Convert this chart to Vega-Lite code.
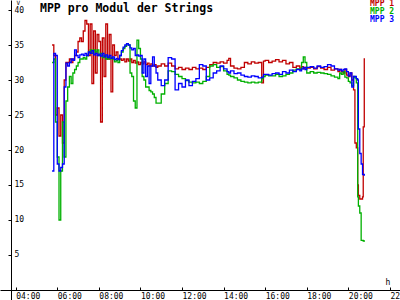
{
  "$schema": "https://vega.github.io/schema/vega-lite/v6.json",
  "width": 400,
  "height": 300,
  "padding": 0,
  "autosize": {"type": "none"},
  "background": "white",
  "config": {"view": {"stroke": null}},
  "title": {
    "text": "MPP pro Modul der Strings",
    "anchor": "start",
    "frame": "group",
    "orient": "top",
    "offset": -11,
    "baseline": "alphabetic",
    "dx": 40,
    "dy": 13,
    "font": "DejaVu Sans Mono",
    "fontSize": 11.5,
    "fontWeight": "bold",
    "color": "black"
  },
  "data": {
    "values": [
      {"m": 345, "MPP 1": 35, "MPP 2": 32.5, "MPP 3": 17},
      {"m": 350, "MPP 1": 33.5, "MPP 2": 33, "MPP 3": 33.8},
      {"m": 355, "MPP 1": 25, "MPP 2": 24, "MPP 3": 33.5},
      {"m": 360, "MPP 1": 26, "MPP 2": 19, "MPP 3": 18},
      {"m": 365, "MPP 1": 22, "MPP 2": 10, "MPP 3": 17},
      {"m": 370, "MPP 1": 25, "MPP 2": 17, "MPP 3": 17.5},
      {"m": 375, "MPP 1": 21, "MPP 2": 24, "MPP 3": 18},
      {"m": 380, "MPP 1": 30, "MPP 2": 19, "MPP 3": 29},
      {"m": 385, "MPP 1": 32.5, "MPP 2": 27, "MPP 3": 32.4},
      {"m": 390, "MPP 1": 32.5, "MPP 2": 29, "MPP 3": 32},
      {"m": 395, "MPP 1": 33, "MPP 2": 30.5, "MPP 3": 32.5},
      {"m": 400, "MPP 1": 32.5, "MPP 2": 29.5, "MPP 3": 33},
      {"m": 405, "MPP 1": 33, "MPP 2": 31, "MPP 3": 32.8},
      {"m": 410, "MPP 1": 33.5, "MPP 2": 31.5, "MPP 3": 34.3},
      {"m": 415, "MPP 1": 34, "MPP 2": 32, "MPP 3": 33.5},
      {"m": 420, "MPP 1": 35.5, "MPP 2": 32.5, "MPP 3": 33.2},
      {"m": 425, "MPP 1": 36, "MPP 2": 33, "MPP 3": 33.6},
      {"m": 430, "MPP 1": 35.5, "MPP 2": 33, "MPP 3": 33.7},
      {"m": 435, "MPP 1": 37, "MPP 2": 33.2, "MPP 3": 33.5},
      {"m": 440, "MPP 1": 38.5, "MPP 2": 33, "MPP 3": 33.8},
      {"m": 445, "MPP 1": 38, "MPP 2": 33.5, "MPP 3": 33.5},
      {"m": 450, "MPP 1": 33.5, "MPP 2": 34, "MPP 3": 34},
      {"m": 455, "MPP 1": 38, "MPP 2": 34.3, "MPP 3": 33.8},
      {"m": 460, "MPP 1": 29.5, "MPP 2": 33.8, "MPP 3": 34.2},
      {"m": 465, "MPP 1": 37, "MPP 2": 34.3, "MPP 3": 33.6},
      {"m": 470, "MPP 1": 31, "MPP 2": 34, "MPP 3": 33.8},
      {"m": 475, "MPP 1": 36.5, "MPP 2": 34.3, "MPP 3": 33.5},
      {"m": 480, "MPP 1": 35.5, "MPP 2": 33.5, "MPP 3": 33.7},
      {"m": 485, "MPP 1": 24, "MPP 2": 33.8, "MPP 3": 33.4},
      {"m": 490, "MPP 1": 36, "MPP 2": 33.2, "MPP 3": 33.8},
      {"m": 495, "MPP 1": 30.5, "MPP 2": 33.5, "MPP 3": 33.3},
      {"m": 500, "MPP 1": 38, "MPP 2": 33, "MPP 3": 33.6},
      {"m": 505, "MPP 1": 33, "MPP 2": 33.3, "MPP 3": 33.2},
      {"m": 510, "MPP 1": 36.5, "MPP 2": 33, "MPP 3": 33.5},
      {"m": 515, "MPP 1": 28.3, "MPP 2": 33.2, "MPP 3": 33.1},
      {"m": 520, "MPP 1": 35, "MPP 2": 33, "MPP 3": 33.3},
      {"m": 525, "MPP 1": 33.5, "MPP 2": 32.6, "MPP 3": 32.9},
      {"m": 530, "MPP 1": 34, "MPP 2": 32.8, "MPP 3": 33.1},
      {"m": 535, "MPP 1": 33, "MPP 2": 32.5, "MPP 3": 32.9},
      {"m": 540, "MPP 1": 33, "MPP 2": 33.5, "MPP 3": 33.5},
      {"m": 545, "MPP 1": 32.8, "MPP 2": 34, "MPP 3": 34.2},
      {"m": 550, "MPP 1": 33, "MPP 2": 34.5, "MPP 3": 34.7},
      {"m": 555, "MPP 1": 32.6, "MPP 2": 34.8, "MPP 3": 35},
      {"m": 560, "MPP 1": 33, "MPP 2": 35.2, "MPP 3": 35.2},
      {"m": 565, "MPP 1": 32.7, "MPP 2": 35, "MPP 3": 35},
      {"m": 570, "MPP 1": 33, "MPP 2": 31, "MPP 3": 34.6},
      {"m": 575, "MPP 1": 32.5, "MPP 2": 30.5, "MPP 3": 34.3},
      {"m": 580, "MPP 1": 32.8, "MPP 2": 27, "MPP 3": 34.5},
      {"m": 585, "MPP 1": 32.4, "MPP 2": 26, "MPP 3": 33.5},
      {"m": 590, "MPP 1": 32.6, "MPP 2": 35.7, "MPP 3": 33.6},
      {"m": 595, "MPP 1": 32.2, "MPP 2": 34.5, "MPP 3": 33.4},
      {"m": 600, "MPP 1": 32.5, "MPP 2": 33, "MPP 3": 33.5},
      {"m": 605, "MPP 1": 32.3, "MPP 2": 30.5, "MPP 3": 31},
      {"m": 610, "MPP 1": 32.6, "MPP 2": 30, "MPP 3": 33},
      {"m": 615, "MPP 1": 32.2, "MPP 2": 29, "MPP 3": 30.5},
      {"m": 620, "MPP 1": 32.4, "MPP 2": 29, "MPP 3": 32},
      {"m": 625, "MPP 1": 32, "MPP 2": 28.5, "MPP 3": 29.5},
      {"m": 630, "MPP 1": 32.3, "MPP 2": 28.3, "MPP 3": 32},
      {"m": 635, "MPP 1": 32, "MPP 2": 28, "MPP 3": 33.3},
      {"m": 640, "MPP 1": 32.2, "MPP 2": 27.5, "MPP 3": 32},
      {"m": 645, "MPP 1": 31.8, "MPP 2": 26.7, "MPP 3": 31},
      {"m": 650, "MPP 1": 32, "MPP 2": 26.7, "MPP 3": 30},
      {"m": 660, "MPP 1": 32.3, "MPP 2": 28, "MPP 3": 29.2},
      {"m": 670, "MPP 1": 32, "MPP 2": 29.5, "MPP 3": 30},
      {"m": 680, "MPP 1": 32.4, "MPP 2": 31.3, "MPP 3": 33.2},
      {"m": 690, "MPP 1": 32, "MPP 2": 31.2, "MPP 3": 33},
      {"m": 700, "MPP 1": 31.6, "MPP 2": 30.8, "MPP 3": 28.6},
      {"m": 710, "MPP 1": 31.8, "MPP 2": 30.5, "MPP 3": 29.5},
      {"m": 720, "MPP 1": 31.5, "MPP 2": 30.2, "MPP 3": 29},
      {"m": 730, "MPP 1": 31.7, "MPP 2": 29.9, "MPP 3": 30},
      {"m": 740, "MPP 1": 31.5, "MPP 2": 29.7, "MPP 3": 29.2},
      {"m": 750, "MPP 1": 31.8, "MPP 2": 29.6, "MPP 3": 29.8},
      {"m": 760, "MPP 1": 31.6, "MPP 2": 29.7, "MPP 3": 30.2},
      {"m": 770, "MPP 1": 31.7, "MPP 2": 29.5, "MPP 3": 32.2},
      {"m": 780, "MPP 1": 31.5, "MPP 2": 29.8, "MPP 3": 32},
      {"m": 790, "MPP 1": 31.8, "MPP 2": 30.5, "MPP 3": 30},
      {"m": 800, "MPP 1": 32.2, "MPP 2": 32, "MPP 3": 30.3},
      {"m": 810, "MPP 1": 32.5, "MPP 2": 32.2, "MPP 3": 31},
      {"m": 820, "MPP 1": 32.4, "MPP 2": 31.8, "MPP 3": 31.3},
      {"m": 830, "MPP 1": 32.6, "MPP 2": 31.9, "MPP 3": 32},
      {"m": 840, "MPP 1": 32.4, "MPP 2": 31.3, "MPP 3": 31.6},
      {"m": 850, "MPP 1": 32.8, "MPP 2": 30.8, "MPP 3": 31.2},
      {"m": 855, "MPP 1": 33.1, "MPP 2": 30.7, "MPP 3": 31},
      {"m": 860, "MPP 1": 32, "MPP 2": 30.5, "MPP 3": 31.3},
      {"m": 870, "MPP 1": 31.7, "MPP 2": 30.3, "MPP 3": 30.9},
      {"m": 880, "MPP 1": 31.6, "MPP 2": 30, "MPP 3": 31},
      {"m": 890, "MPP 1": 31.8, "MPP 2": 29.8, "MPP 3": 30.7},
      {"m": 900, "MPP 1": 32.5, "MPP 2": 29.7, "MPP 3": 30.5},
      {"m": 910, "MPP 1": 32.3, "MPP 2": 29.6, "MPP 3": 30.4},
      {"m": 920, "MPP 1": 32.6, "MPP 2": 29.7, "MPP 3": 30.6},
      {"m": 930, "MPP 1": 32.4, "MPP 2": 29.6, "MPP 3": 30.5},
      {"m": 940, "MPP 1": 32.5, "MPP 2": 29.7, "MPP 3": 30.3},
      {"m": 950, "MPP 1": 29.6, "MPP 2": 30.2, "MPP 3": 30.4},
      {"m": 955, "MPP 1": 32.7, "MPP 2": 30.5, "MPP 3": 30.8},
      {"m": 960, "MPP 1": 32.8, "MPP 2": 30.7, "MPP 3": 30.8},
      {"m": 970, "MPP 1": 32.5, "MPP 2": 30.6, "MPP 3": 30.7},
      {"m": 980, "MPP 1": 32.7, "MPP 2": 30.6, "MPP 3": 30.9},
      {"m": 990, "MPP 1": 32.9, "MPP 2": 30.8, "MPP 3": 31},
      {"m": 1000, "MPP 1": 32.6, "MPP 2": 30.5, "MPP 3": 30.8},
      {"m": 1010, "MPP 1": 32.8, "MPP 2": 30.6, "MPP 3": 31.2},
      {"m": 1020, "MPP 1": 32.3, "MPP 2": 30.8, "MPP 3": 31},
      {"m": 1030, "MPP 1": 32.5, "MPP 2": 31, "MPP 3": 31.4},
      {"m": 1040, "MPP 1": 31.8, "MPP 2": 31.4, "MPP 3": 31.2},
      {"m": 1050, "MPP 1": 32, "MPP 2": 31.6, "MPP 3": 31.5},
      {"m": 1060, "MPP 1": 31.7, "MPP 2": 31.5, "MPP 3": 31.3},
      {"m": 1065, "MPP 1": 31.9, "MPP 2": 32.5, "MPP 3": 31.6},
      {"m": 1070, "MPP 1": 31.6, "MPP 2": 33.3, "MPP 3": 31.8},
      {"m": 1075, "MPP 1": 31.8, "MPP 2": 32.5, "MPP 3": 31.5},
      {"m": 1080, "MPP 1": 31.7, "MPP 2": 31, "MPP 3": 31.8},
      {"m": 1090, "MPP 1": 31.8, "MPP 2": 31.2, "MPP 3": 31.9},
      {"m": 1100, "MPP 1": 31.6, "MPP 2": 31, "MPP 3": 31.7},
      {"m": 1110, "MPP 1": 31.9, "MPP 2": 31.1, "MPP 3": 32},
      {"m": 1120, "MPP 1": 31.7, "MPP 2": 31, "MPP 3": 31.8},
      {"m": 1130, "MPP 1": 31.5, "MPP 2": 30.9, "MPP 3": 31.9},
      {"m": 1140, "MPP 1": 31.8, "MPP 2": 30.8, "MPP 3": 32.2},
      {"m": 1150, "MPP 1": 31.4, "MPP 2": 30.6, "MPP 3": 32},
      {"m": 1160, "MPP 1": 31.6, "MPP 2": 30.4, "MPP 3": 31.6},
      {"m": 1170, "MPP 1": 31.2, "MPP 2": 30.2, "MPP 3": 31.4},
      {"m": 1175, "MPP 1": 31.5, "MPP 2": 31, "MPP 3": 31.5},
      {"m": 1180, "MPP 1": 31.2, "MPP 2": 30.8, "MPP 3": 31.3},
      {"m": 1185, "MPP 1": 31, "MPP 2": 31.2, "MPP 3": 31.5},
      {"m": 1190, "MPP 1": 31.5, "MPP 2": 30.4, "MPP 3": 31.6},
      {"m": 1195, "MPP 1": 30.7, "MPP 2": 30.3, "MPP 3": 31.2},
      {"m": 1200, "MPP 1": 30.5, "MPP 2": 29.8, "MPP 3": 30.6},
      {"m": 1205, "MPP 1": 31, "MPP 2": 29.6, "MPP 3": 31},
      {"m": 1210, "MPP 1": 30, "MPP 2": 29.2, "MPP 3": 29},
      {"m": 1215, "MPP 1": 28.6, "MPP 2": 30.5, "MPP 3": 30.5},
      {"m": 1219, "MPP 1": 21, "MPP 2": 30.3, "MPP 3": 30.5},
      {"m": 1223, "MPP 1": 20.3, "MPP 2": 29.6, "MPP 3": 30.2},
      {"m": 1227, "MPP 1": 15, "MPP 2": 13.3, "MPP 3": 30},
      {"m": 1229, "MPP 1": 13.5, "MPP 2": 12, "MPP 3": 23},
      {"m": 1233, "MPP 1": 13, "MPP 2": 11, "MPP 3": 19.5},
      {"m": 1237, "MPP 1": 13, "MPP 2": 7.1, "MPP 3": 18},
      {"m": 1241, "MPP 1": 13.3, "MPP 2": 7.1, "MPP 3": 16.5},
      {"m": 1243, "MPP 1": 23.3, "MPP 2": 7, "MPP 3": 16.5},
      {"m": 1246, "MPP 1": 33, "MPP 2": 7, "MPP 3": 16.4},
      {"m": 1248, "MPP 1": 33, "MPP 2": 7, "MPP 3": 16.4}
    ]
  },
  "transform": [{"fold": ["MPP 1", "MPP 2", "MPP 3"], "as": ["s", "v"]}],
  "mark": {"type": "line", "interpolate": "step-after", "strokeWidth": 1.3},
  "encoding": {
    "x": {
      "field": "m",
      "type": "quantitative",
      "scale": {"domain": [194.7, 1349.1], "nice": false, "zero": false},
      "axis": {
        "orient": "bottom",
        "offset": -10,
        "values": [240, 360, 480, 600, 720, 840, 960, 1080, 1200, 1320],
        "labelExpr": "(datum.value < 600 ? '0' : '') + floor(datum.value / 60) + ':00'",
        "grid": false,
        "domainColor": "black",
        "domainWidth": 1,
        "tickColor": "black",
        "tickSize": -3,
        "labelFont": "DejaVu Sans Mono",
        "labelFontSize": 8,
        "labelColor": "black",
        "labelAlign": "left",
        "labelBaseline": "top",
        "labelDx": -4,
        "labelPadding": 5,
        "labelFlush": false,
        "labelOverlap": false,
        "title": "h",
        "titleFont": "DejaVu Sans Mono",
        "titleFontSize": 8,
        "titleFontWeight": "normal",
        "titleColor": "black",
        "titleX": 385,
        "titleY": -6,
        "titleAlign": "left",
        "titleBaseline": "alphabetic"
      }
    },
    "y": {
      "field": "v",
      "type": "quantitative",
      "scale": {"domain": [-1.43, 41.43], "nice": false, "zero": false},
      "axis": {
        "orient": "left",
        "offset": -11,
        "values": [5, 10, 15, 20, 25, 30, 35, 40],
        "grid": false,
        "domainColor": "black",
        "domainWidth": 1,
        "tickColor": "black",
        "tickSize": 3,
        "labelFont": "DejaVu Sans Mono",
        "labelFontSize": 8,
        "labelColor": "black",
        "labelAlign": "left",
        "labelBaseline": "middle",
        "labelPadding": -6,
        "labelFlush": false,
        "labelOverlap": false,
        "title": "V",
        "titleFont": "DejaVu Sans Mono",
        "titleFontSize": 6,
        "titleFontWeight": "normal",
        "titleColor": "black",
        "titleAngle": 0,
        "titleX": 5,
        "titleY": -1,
        "titleAlign": "left",
        "titleBaseline": "top"
      }
    },
    "color": {
      "field": "s",
      "type": "nominal",
      "scale": {"domain": ["MPP 1", "MPP 2", "MPP 3"], "range": ["#c00000", "#00b000", "#0000ff"]},
      "legend": {
        "orient": "none",
        "legendX": 362,
        "legendY": 0,
        "title": null,
        "padding": 0,
        "rowPadding": 0,
        "symbolSize": 0,
        "symbolOpacity": 0,
        "symbolStrokeWidth": 0,
        "labelOffset": 0,
        "labelFont": "DejaVu Sans Mono",
        "labelFontSize": 8,
        "labelFontWeight": "bold",
        "labelColor": {"expr": "datum.value == 'MPP 1' ? '#c00000' : datum.value == 'MPP 2' ? '#00b000' : '#0000ff'"}
      }
    }
  }
}
